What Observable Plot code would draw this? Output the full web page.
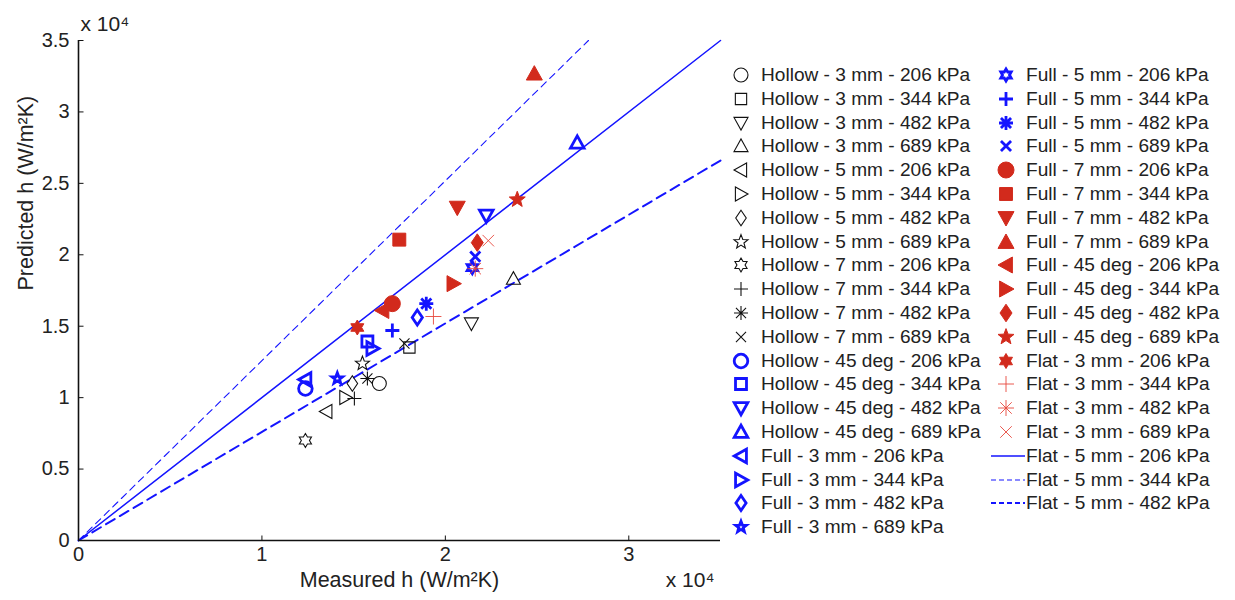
<!DOCTYPE html>
<html><head><meta charset="utf-8">
<script src="https://cdn.jsdelivr.net/npm/d3@7"></script>
<script src="https://cdn.jsdelivr.net/npm/@observablehq/plot@0.6"></script>
<style>
body{margin:0;background:#fff;font-family:"Liberation Sans",Arial,sans-serif;}
#wrap{position:relative;width:1235px;height:600px;overflow:hidden;}
.row{position:absolute;height:24px;display:flex;align-items:center;font-size:19.1px;color:#222;white-space:nowrap;}
.row svg{flex:none;}
</style></head><body><div id="wrap"></div>
<script>
// ---------- data ----------
const seriesLabels = [
  "Hollow - 3 mm - 206 kPa","Hollow - 3 mm - 344 kPa","Hollow - 3 mm - 482 kPa","Hollow - 3 mm - 689 kPa",
  "Hollow - 5 mm - 206 kPa","Hollow - 5 mm - 344 kPa","Hollow - 5 mm - 482 kPa","Hollow - 5 mm - 689 kPa",
  "Hollow - 7 mm - 206 kPa","Hollow - 7 mm - 344 kPa","Hollow - 7 mm - 482 kPa","Hollow - 7 mm - 689 kPa",
  "Hollow - 45 deg - 206 kPa","Hollow - 45 deg - 344 kPa","Hollow - 45 deg - 482 kPa","Hollow - 45 deg - 689 kPa",
  "Full - 3 mm - 206 kPa","Full - 3 mm - 344 kPa","Full - 3 mm - 482 kPa","Full - 3 mm - 689 kPa",
  "Full - 5 mm - 206 kPa","Full - 5 mm - 344 kPa","Full - 5 mm - 482 kPa","Full - 5 mm - 689 kPa",
  "Full - 7 mm - 206 kPa","Full - 7 mm - 344 kPa","Full - 7 mm - 482 kPa","Full - 7 mm - 689 kPa",
  "Full - 45 deg - 206 kPa","Full - 45 deg - 344 kPa","Full - 45 deg - 482 kPa","Full - 45 deg - 689 kPa",
  "Flat - 3 mm - 206 kPa","Flat - 3 mm - 344 kPa","Flat - 3 mm - 482 kPa","Flat - 3 mm - 689 kPa"
];
const measuredH = [
  16400, 18040, 21420, 23710,
  13510, 14550, 14930, 15480,
  12370, 15040, 15750, 17770,
  12370, 15750, 22230, 27190,
  12370, 16020, 18470, 14110,
  21470, 17110, 18960, 21630,
  17110, 17490, 20650, 24850,
  16570, 20440, 21740, 23920,
  15200, 19350, 21630, 22340
];
const predictedH = [
  10990, 13510, 15190, 18330,
  9030, 10010, 10990, 12390,
  7000, 9940, 11340, 13790,
  10640, 13930, 22740, 27850,
  11270, 13440, 15610, 11340,
  19100, 14700, 16580, 19870,
  16580, 21060, 23300, 32680,
  16100, 17980, 20850, 23860,
  14910, 15680, 19030, 20990
];
const lineLabels = ["Flat - 5 mm - 206 kPa","Flat - 5 mm - 344 kPa","Flat - 5 mm - 482 kPa"];
const lineEndX = [35000, 27800, 35000];
const lineEndY = [35000, 35000, 26600];
const xTicks = [0, 10000, 20000, 30000];
const yTicks = [0, 5000, 10000, 15000, 20000, 25000, 30000, 35000];

// ---------- symbols ----------
function poly(ctx, pts){ctx.moveTo(pts[0][0],pts[0][1]);for(let i=1;i<pts.length;i++)ctx.lineTo(pts[i][0],pts[i][1]);ctx.closePath();}
function star(ctx, s, n, inner){const pts=[];for(let i=0;i<2*n;i++){const a=-Math.PI/2+i*Math.PI/n;const r=i%2?s*inner:s;pts.push([r*Math.cos(a),r*Math.sin(a)]);}poly(ctx,pts);}
const rad = size => Math.sqrt(size/Math.PI);
const SYM = {
  circle:{draw(c,z){const s=rad(z);c.moveTo(s,0);c.arc(0,0,s,0,2*Math.PI);}},
  square:{draw(c,z){const s=rad(z)*0.85;c.rect(-s,-s,2*s,2*s);}},
  tdown:{draw(c,z){const s=rad(z);poly(c,[[-s,-0.8*s],[s,-0.8*s],[0,s]]);}},
  tup:{draw(c,z){const s=rad(z);poly(c,[[-s,0.8*s],[s,0.8*s],[0,-s]]);}},
  tleft:{draw(c,z){const s=rad(z);poly(c,[[0.8*s,-s],[0.8*s,s],[-s,0]]);}},
  tright:{draw(c,z){const s=rad(z);poly(c,[[-0.8*s,-s],[-0.8*s,s],[s,0]]);}},
  diamond:{draw(c,z){const s=rad(z);poly(c,[[0,-1.1*s],[0.75*s,0],[0,1.1*s],[-0.75*s,0]]);}},
  pent:{draw(c,z){star(c,rad(z)*1.05,5,0.42);}},
  hex:{draw(c,z){star(c,rad(z),6,0.58);}},
  plus:{draw(c,z){const s=rad(z);c.moveTo(-s,0);c.lineTo(s,0);c.moveTo(0,-s);c.lineTo(0,s);}},
  aster:{draw(c,z){const s=rad(z),d=s*0.72;c.moveTo(-s,0);c.lineTo(s,0);c.moveTo(0,-s);c.lineTo(0,s);c.moveTo(-d,-d);c.lineTo(d,d);c.moveTo(-d,d);c.lineTo(d,-d);}},
  times:{draw(c,z){const d=rad(z)*0.72;c.moveTo(-d,-d);c.lineTo(d,d);c.moveTo(-d,d);c.lineTo(d,-d);}},
  vtick:{draw(c){c.moveTo(0,0);c.lineTo(0,-5);}},
  htick:{draw(c){c.moveTo(0,0);c.lineTo(5,0);}}
};
const BLACK="#111", BLUE="#1414ff", RED="#d22a1c", LRED="#e8473c";
const shapes8 = ["circle","square","tdown","tup","tleft","tright","diamond","pent","hex","plus","aster","times"];
const lineShapes = new Set(["plus","aster","times"]);
// style per series (index -> style)
function styleOf(i){
  let sym, color, filled=false, sw=1.2, r=7;
  if(i<12){sym=shapes8[i];color=BLACK;sw=1.1;r=7;}
  else if(i<16){sym=["circle","square","tdown","tup"][i-12];color=BLUE;sw=2.8;r=6.8;}
  else if(i<20){sym=["tleft","tright","diamond","pent"][i-16];color=BLUE;sw=2.8;r=6.8;}
  else if(i<24){sym=["hex","plus","aster","times"][i-20];color=BLUE;sw=2.8;r=7;}
  else if(i<28){sym=["circle","square","tdown","tup"][i-24];color=RED;filled=true;r=8;sw=1;}
  else if(i<32){sym=["tleft","tright","diamond","pent"][i-28];color=RED;filled=true;r=8;sw=1;}
  else {sym=["hex","plus","aster","times"][i-32];color=i===32?RED:LRED;filled=i===32;sw=i===32?1:0.9;r=i===32?7.5:8;}
  if(lineShapes.has(sym)) filled=false;
  if(sym==="square") r*=0.95;
  if(i===19) r=5.5;
  if(i===20) r=6;
  return {sym, color, filled, sw, r};
}
const lineStyles = [
  {sw:1.5, dash:null},
  {sw:1.1, dash:"7,5"},
  {sw:2, dash:"10,6"}
];

// ---------- chart ----------
const FONT = "Liberation Sans, Arial, sans-serif";
const marks = [];
lineLabels.forEach((lab,j)=>{
  marks.push(Plot.line([[0,0],[lineEndX[j],lineEndY[j]]],{x:d=>d[0],y:d=>d[1],stroke:BLUE,strokeWidth:lineStyles[j].sw,strokeDasharray:lineStyles[j].dash}));
});
marks.push(Plot.ruleY([0],{stroke:"#111",strokeWidth:1.6}));
marks.push(Plot.ruleX([0],{stroke:"#111",strokeWidth:1.6}));
marks.push(Plot.dot(xTicks.slice(1),{x:d=>d,y:()=>0,symbol:SYM.vtick,r:5,stroke:"#111",strokeWidth:1,fill:"none"}));
marks.push(Plot.dot(yTicks.slice(1),{x:()=>0,y:d=>d,symbol:SYM.htick,r:5,stroke:"#111",strokeWidth:1,fill:"none"}));
seriesLabels.forEach((lab,i)=>{
  const st=styleOf(i);
  marks.push(Plot.dot([i],{x:k=>measuredH[k],y:k=>predictedH[k],symbol:SYM[st.sym],r:st.r,
    stroke:st.color,strokeWidth:st.sw,fill:st.filled?st.color:"none",title:()=>lab}));
});
marks.push(Plot.text(["Measured h (W/m²K)"],{frameAnchor:"bottom",dy:46,fontSize:21.5,fill:"#222"}));
marks.push(Plot.text(["Predicted h (W/m²K)"],{frameAnchor:"left",dx:-52,rotate:-90,fontSize:21.5,fill:"#222"}));
marks.push(Plot.text(["x 10⁴"],{frameAnchor:"top-left",textAnchor:"start",dx:2,dy:-24,fontSize:21,fill:"#222"}));
marks.push(Plot.text(["x 10⁴"],{frameAnchor:"bottom-right",textAnchor:"end",dx:-6,dy:46,fontSize:21,fill:"#222"}));

const chart = Plot.plot({
  width:1235, height:600,
  marginLeft:78, marginRight:515, marginTop:40, marginBottom:60,
  style:{fontFamily:FONT,fontSize:"20px",color:"#222",background:"#fff"},
  x:{domain:[0,35000],ticks:xTicks,tickFormat:d=>d/1e4,tickSize:0,tickPadding:6,label:null},
  y:{domain:[0,35000],ticks:yTicks,tickFormat:d=>d/1e4,tickSize:0,tickPadding:9,label:null},
  marks
});
const wrap=document.getElementById("wrap");
wrap.appendChild(chart);

// ---------- legend ----------
const NS="http://www.w3.org/2000/svg";
function addRow(left, top, label, drawFn){
  const row=document.createElement("div");row.className="row";
  row.style.left=left+"px";row.style.top=(top-12)+"px";
  const svg=document.createElementNS(NS,"svg");
  drawFn(svg);
  row.appendChild(svg);
  const span=document.createElement("span");span.textContent=label;row.appendChild(span);
  wrap.appendChild(row);
}
function symRow(left, top, i){
  const st=styleOf(i);
  addRow(left, top, seriesLabels[i], svg=>{
    svg.setAttribute("width",30);svg.setAttribute("height",24);
    svg.style.marginRight="3px";
    const p=d3.path();SYM[st.sym].draw(p,st.r*st.r*Math.PI);
    const path=document.createElementNS(NS,"path");
    path.setAttribute("d",p.toString());path.setAttribute("transform","translate(13,12)");
    path.setAttribute("stroke",st.color);path.setAttribute("stroke-width",st.sw);
    path.setAttribute("fill",st.filled?st.color:"none");
    svg.appendChild(path);
  });
}
const rowStep=23.8, top0=75;
for(let i=0;i<20;i++) symRow(728, top0+i*rowStep, i);
for(let i=20;i<36;i++) symRow(993, top0+(i-20)*rowStep, i);
lineLabels.forEach((lab,j)=>{
  addRow(990, top0+(16+j)*rowStep, lab, svg=>{
    svg.setAttribute("width",36);svg.setAttribute("height",24);
    const l=document.createElementNS(NS,"line");
    l.setAttribute("x1",1);l.setAttribute("x2",35);l.setAttribute("y1",12);l.setAttribute("y2",12);
    l.setAttribute("stroke",BLUE);l.setAttribute("stroke-width",lineStyles[j].sw);
    if(lineStyles[j].dash) l.setAttribute("stroke-dasharray","5,3");
    svg.appendChild(l);
  });
});
</script></body></html>
